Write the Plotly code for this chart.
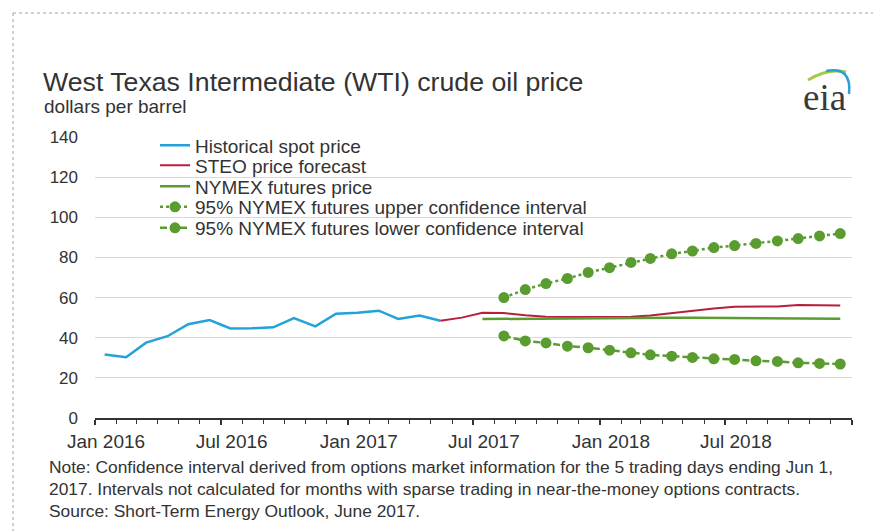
import plotly.graph_objects as go
import pandas as pd

# ---------------- data ----------------
hist_start = "2016-01-01"
hist_values = [31.68, 30.32, 37.55, 40.75, 46.71, 48.76, 44.65, 44.72, 45.18,
               49.78, 45.66, 51.97, 52.50, 53.47, 49.33, 51.06, 48.48]  # Jan 2016 - May 2017

steo_start = "2017-05-01"
steo_values = [48.48, 50.0, 52.4, 52.3, 51.2, 50.5, 50.3, 50.3, 50.3, 50.5, 51.1,
               52.3, 53.5, 54.5, 55.4, 55.6, 55.6, 56.3, 56.3, 56.1]  # May 2017 - Dec 2018

nymex_start = "2017-07-01"
nymex_values = [49.3, 49.4, 49.5, 49.6, 49.7, 49.8, 49.8, 49.9, 49.9, 49.9,
                49.9, 49.8, 49.8, 49.7, 49.7, 49.6, 49.6, 49.5]  # Jul 2017 - Dec 2018

ci_start = "2017-08-01"
upper_values = [60.0, 64.0, 67.0, 69.5, 72.5, 74.9, 77.5, 79.5, 81.8, 83.2, 84.9,
                85.9, 87.0, 88.2, 89.4, 90.7, 91.9]  # Aug 2017 - Dec 2018
lower_values = [40.9, 38.4, 37.4, 35.8, 35.0, 33.8, 32.5, 31.5, 30.8, 30.2, 29.5,
                29.2, 28.5, 28.2, 27.5, 27.2, 26.9]

series_names = ["Historical spot price", "STEO price forecast", "NYMEX futures price",
                "95% NYMEX futures upper confidence interval",
                "95% NYMEX futures lower confidence interval"]

title_text = "West Texas Intermediate (WTI) crude oil price"
subtitle_text = "dollars per barrel"
note_lines = [
    "Note: Confidence interval derived from options market information for the 5 trading days ending Jun 1,",
    "2017. Intervals not calculated for months with sparse trading in near-the-money options contracts.",
    "Source: Short-Term Energy Outlook, June 2017.",
]


def months(start, n):
    return pd.date_range(start, periods=n, freq="MS") + pd.Timedelta(days=14)


BLUE = "#22a2db"
RED = "#b5203f"
GREEN = "#5b9c31"
TXT = "#333333"
FONT = "Liberation Sans, Arial, sans-serif"

# page body has an 8px default margin -> figure is drawn at (8, 8)
OFF = 8
W, H = 881 - OFF, 531 - OFF
PLOT_L, PLOT_R, PLOT_T, PLOT_B = 95, 852, 137, 418   # window pixel coords of plot area
L, R, T, B = PLOT_L - OFF, W - (PLOT_R - OFF), PLOT_T - OFF, H - (PLOT_B - OFF)


def px(x):
    return (x - PLOT_L) / (PLOT_R - PLOT_L)


def py(y):
    return (PLOT_B - y) / (PLOT_B - PLOT_T)


fig = go.Figure()
fig.add_trace(go.Scatter(x=months(hist_start, len(hist_values)), y=hist_values,
                         mode="lines", name=series_names[0],
                         line=dict(color=BLUE, width=2.5), legend="legend"))
fig.add_trace(go.Scatter(x=months(steo_start, len(steo_values)), y=steo_values,
                         mode="lines", name=series_names[1],
                         line=dict(color=RED, width=2), legend="legend2"))
fig.add_trace(go.Scatter(x=months(nymex_start, len(nymex_values)), y=nymex_values,
                         mode="lines", name=series_names[2],
                         line=dict(color=GREEN, width=2.5), legend="legend3"))
fig.add_trace(go.Scatter(x=months(ci_start, len(upper_values)), y=upper_values,
                         mode="lines+markers", name=series_names[3],
                         line=dict(color=GREEN, width=2.5, dash="3px,3px"),
                         marker=dict(color=GREEN, size=11), legend="legend4"))
fig.add_trace(go.Scatter(x=months(ci_start, len(lower_values)), y=lower_values,
                         mode="lines+markers", name=series_names[4],
                         line=dict(color=GREEN, width=2.5, dash="7px,3px"),
                         marker=dict(color=GREEN, size=11), legend="legend5"))

legend_rows = [145.5, 165.5, 186.5, 207, 228]
legend_common = dict(x=px(155), xanchor="left", yanchor="middle",
                     bgcolor="rgba(0,0,0,0)", borderwidth=0,
                     font=dict(family=FONT, size=19, color=TXT))
layout_legends = {}
for i, row in enumerate(legend_rows):
    key = "legend" if i == 0 else f"legend{i + 1}"
    layout_legends[key] = dict(y=py(row), **legend_common)

x_range = ["2016-01-01", "2019-01-01"]

fig.update_layout(
    width=W, height=H,
    margin=dict(l=L, r=R, t=T, b=B, pad=0),
    paper_bgcolor="white", plot_bgcolor="white",
    showlegend=True,
    xaxis=dict(type="date", range=x_range, tick0="2016-01-01", dtick="M6",
               tickformat="%b %Y", ticks="outside", ticklen=5, tickwidth=1.5,
               tickcolor=TXT, showline=True, linecolor=TXT, linewidth=2,
               showgrid=False, zeroline=False, ticklabelshift=11,
               ticklabelstandoff=0,
               tickfont=dict(family=FONT, size=19, color=TXT),
               minor=dict(dtick="M1", tick0="2016-01-01", ticks="outside",
                          ticklen=4, tickwidth=1, tickcolor=TXT, showgrid=False)),
    xaxis2=dict(type="date", range=x_range, overlaying="x", anchor="y", side="bottom",
                tick0="2016-01-01", dtick="M6", ticks="inside", ticklen=5,
                tickwidth=1.5, tickcolor=TXT, showticklabels=False, showgrid=False,
                showline=False, zeroline=False),
    yaxis=dict(range=[0, 140], dtick=20, showgrid=True, gridcolor="#d9d9d9",
               gridwidth=1, zeroline=False, showline=False, ticks="",
               ticklabelstandoff=16,
               tickfont=dict(family=FONT, size=17, color=TXT)),
    **layout_legends,
)

annotations = [
    dict(text=title_text, x=px(41), y=py(82.5), xanchor="left", yanchor="middle",
         font=dict(family=FONT, size=26.7, color=TXT)),
    dict(text=subtitle_text, x=px(42), y=py(107), xanchor="left", yanchor="middle",
         font=dict(family=FONT, size=19, color=TXT)),
    dict(text="eia", x=px(824), y=py(97), xanchor="center", yanchor="middle",
         font=dict(family="Liberation Serif, Times New Roman, serif", size=37, color="#3a3a3a")),
]
for line, yy in zip(note_lines, [467, 489, 511]):
    annotations.append(dict(text=line, x=px(47), y=py(yy), xanchor="left", yanchor="middle",
                            font=dict(family=FONT, size=17.4, color=TXT)))
for a in annotations:
    a.update(xref="paper", yref="paper", showarrow=False)
fig.update_layout(annotations=annotations)


def path(points):
    (x0, y0), (cx, cy), (x1, y1) = points
    return f"M {px(x0)},{py(y0)} Q {px(cx)},{py(cy)} {px(x1)},{py(y1)}"


shapes = [
    # dotted frame
    dict(type="line", x0=px(13), x1=px(881), y0=py(13), y1=py(13),
         line=dict(color="#a0a0a0", width=1, dash="dot")),
    dict(type="line", x0=px(13), x1=px(13), y0=py(13), y1=py(531),
         line=dict(color="#a0a0a0", width=1, dash="dot")),
    # logo swooshes
    dict(type="path", path=path([(808, 80), (828, 68), (846, 72)]),
         line=dict(color="#a9c84a", width=3)),
    dict(type="path", path=path([(826, 71), (852, 66), (849, 94)]),
         line=dict(color="#2b9fd6", width=2.5)),
]
for s in shapes:
    s.update(xref="paper", yref="paper", layer="above")
fig.update_layout(shapes=shapes)

fig.write_html("out.html")
